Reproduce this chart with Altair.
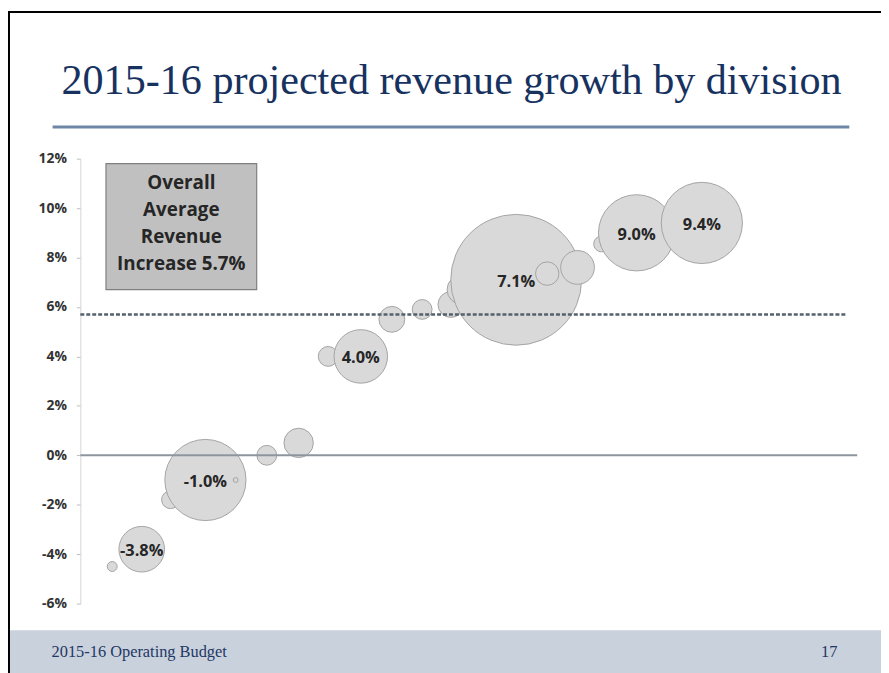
import altair as alt
import pandas as pd

# ---- data ----
position = [4.1, 7.9, 11.6, 16.1, 20.0, 24.0, 28.1, 31.9, 36.1, 40.1, 44.0, 47.7,
            49.1, 56.1, 60.1, 64.0, 67.1, 71.6, 80.0]
growth = [-4.5, -3.8, -1.8, -1.0, -1.0, 0.0, 0.5, 4.0, 4.0, 5.5, 5.9, 6.1,
          6.7, 7.1, 7.35, 7.6, 8.55, 9.0, 9.4]
revenue = [2.5, 53, 8, 168, 0.6, 10, 22, 10, 73, 17, 10, 17,
           22, 436, 14, 29, 6.4, 148, 168]
labels = ["", "-3.8%", "", "-1.0%", "", "", "", "", "4.0%", "", "", "",
          "", "7.1%", "", "", "", "9.0%", "9.4%"]
y_ticks = [-6, -4, -2, 0, 2, 4, 6, 8, 10, 12]
average_growth = 5.7
avg_line_end = 98.5
title_text = "2015-16 projected revenue growth by division"
box_lines = ["Overall", "Average", "Revenue", "Increase 5.7%"]
footer_left = "2015-16 Operating Budget"
footer_right = "17"

df = pd.DataFrame({"pos": position, "growth": growth, "revenue": revenue, "label": labels})
df_lab = df[df["label"] != ""]

W, H = 784, 449
xs = alt.Scale(domain=[0, 100], nice=False, zero=False)
ys = alt.Scale(domain=[-6, 12], nice=False, zero=False)
yax = alt.Axis(
    values=y_ticks, labelExpr="datum.value + '%'", title=None, grid=False,
    labelFont="Open Sans", labelFontWeight="bold", labelFontSize=14, labelColor="#333333",
    tickColor="#bdbdbd", tickSize=4, labelPadding=10, domainColor="#d4d4d4")
one = alt.Data(values=[{"a": 1}])


def X(f):
    return alt.X(f, scale=xs, axis=None)


def Y(f):
    return alt.Y(f, scale=ys, axis=yax)


# decorations (slide frame)
footer_band = alt.Chart(one).mark_rect(color="#c9d1dd").encode(
    x=alt.value(-72), x2=alt.value(808), y=alt.value(476), y2=alt.value(520))
border_left = alt.Chart(one).mark_rule(color="#000000", strokeWidth=2).encode(
    x=alt.value(-72), y=alt.value(-149), y2=alt.value(520))
border_top = alt.Chart(one).mark_rule(color="#000000", strokeWidth=2).encode(
    y=alt.value(-148), x=alt.value(-73), x2=alt.value(808))
title_rule = alt.Chart(one).mark_rule(color="#6f87a6", strokeWidth=3).encode(
    y=alt.value(-32), x=alt.value(-28), x2=alt.value(776))
title = alt.Chart(one).mark_text(
    text=title_text, font="Liberation Serif", fontSize=42.5, color="#17325f",
    align="left", baseline="alphabetic").encode(x=alt.value(-19), y=alt.value(-65))
foot_l = alt.Chart(one).mark_text(
    text=footer_left, font="Liberation Serif", fontSize=16.5, color="#1f3864",
    align="left", baseline="middle").encode(x=alt.value(-29), y=alt.value(498))
foot_r = alt.Chart(one).mark_text(
    text=footer_right, font="Liberation Serif", fontSize=16.5, color="#1f3864",
    align="right", baseline="middle").encode(x=alt.value(764), y=alt.value(498))

# chart content
bubbles = alt.Chart(df).mark_circle(
    fill="#d9d9d9", stroke="#a3a3a3", strokeWidth=1, opacity=1).encode(
    x=X("pos:Q"), y=Y("growth:Q"),
    size=alt.Size("revenue:Q", scale=alt.Scale(domain=[0, 436], range=[0, 17424], zero=True), legend=None))

zero_rule = alt.Chart(one).mark_rule(color="#8d969e", strokeWidth=2).encode(
    y=Y("z:Q")).transform_calculate(z="0")
avg_df = pd.DataFrame({"y": [average_growth], "x0": [0], "x1": [avg_line_end]})
avg_rule = alt.Chart(avg_df).mark_rule(color="#56606b", strokeWidth=2.5, strokeDash=[4, 2]).encode(
    y=Y("y:Q"), x=X("x0:Q"), x2="x1:Q")

box_df = pd.DataFrame({"x0": [3.3], "x1": [22.7], "y0": [6.7], "y1": [11.8]})
box = alt.Chart(box_df).mark_rect(fill="#c0c0c0", stroke="#7f7f7f", strokeWidth=1.2).encode(
    x=X("x0:Q"), x2="x1:Q", y=Y("y0:Q"), y2="y1:Q")
box_txt_df = pd.DataFrame({"x": [13.0], "y": [11.0]})
box_text = alt.Chart(box_txt_df).mark_text(
    text=box_lines, font="Open Sans", fontWeight="bold", fontSize=19, lineHeight=27,
    color="#262626", align="center", baseline="middle").encode(
    x=X("x:Q"), y=Y("y:Q"))

bubble_labels = alt.Chart(df_lab).mark_text(
    font="Open Sans", fontWeight="bold", fontSize=16.5, color="#262626",
    align="center", baseline="middle", dy=2).encode(
    x=X("pos:Q"), y=Y("growth:Q"), text="label:N")

chart = alt.layer(
    bubbles, footer_band, border_left, border_top, title_rule, title, foot_l, foot_r,
    zero_rule, avg_rule, box, box_text, bubble_labels
).properties(
    width=W, height=H,
    autosize=alt.AutoSizeParams(type="none"),
    padding={"left": 73, "top": 149, "right": 24, "bottom": 67},
    background="#ffffff"
).configure_view(stroke=None)

chart.save("out.html", embed_options={"renderer": "svg", "actions": False})
